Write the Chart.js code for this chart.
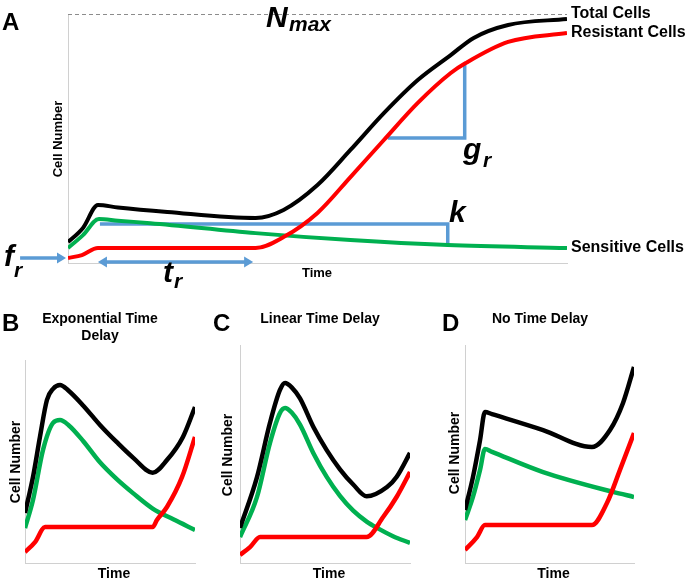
<!DOCTYPE html>
<html>
<head>
<meta charset="utf-8">
<script src="https://cdn.jsdelivr.net/npm/chart.js@4.4.1/dist/chart.umd.min.js"></script>
<style>
  html, body { margin: 0; padding: 0; background: #fff; }
  #wrap { position: relative; width: 688px; height: 579px; }
  #wrap canvas { position: absolute; left: 0; top: 0; }
</style>
</head>
<body>
<div id="wrap">
  <canvas id="chart-a" width="688" height="579"></canvas>
  <canvas id="chart-b" width="688" height="579"></canvas>
  <canvas id="chart-c" width="688" height="579"></canvas>
  <canvas id="chart-d" width="688" height="579"></canvas>
</div>
<script>
// ---- panel A (time 0-100, cell number as % of Nmax) ----
const aTotalT = [0, 3.0, 6.0, 10.0, 19.9, 37.6, 43.2, 50.0, 56.6, 63.3, 70.1, 76.7, 81.3, 88.2, 100];
const aTotal  = [8.4, 14.1, 23.3, 22.3, 20.5, 18.1, 21.3, 31.3, 45.4, 60.2, 73.5, 83.5, 90.4, 95.6, 98.0];
const aResT   = [0, 2.8, 6.0, 37.6, 43.2, 50.0, 56.6, 63.3, 70.1, 76.7, 79.7, 88.2, 100];
const aRes    = [2.0, 3.2, 6.0, 6.0, 10.4, 20.1, 34.5, 49.4, 64.3, 76.3, 80.3, 88.8, 92.4];
const aSensT  = [0, 3.0, 6.2, 10.0, 16.5, 37.6, 56.6, 76.1, 100];
const aSens   = [6.0, 11.2, 17.7, 17.0, 16.0, 12.0, 9.2, 7.2, 6.0];
// parameter marks
const nMax = 100;
const grT = [64.1, 79.5, 79.5], grV = [50.2, 50.2, 79.9];
const kT  = [6.4, 76.1, 76.1],  kV  = [15.7, 15.7, 7.2];
const frT = [-9.6, -0.4];          // arrow ends at the resistant start value
const trT = [6.0, 37.1], trV = 0.4;

// ---- panel B: exponential time delay ----
const bTotalT = [0, 4.7, 8.8, 12.9, 16.5, 20.6, 25.5, 34.3, 44.1, 54.0, 63.7, 75.1, 83.5, 92.9, 100];
const bTotal  = [24.6, 42.4, 62.1, 80.3, 85.8, 87.7, 85.0, 77.5, 68.0, 59.5, 51.8, 44.5, 50.7, 62.1, 76.8];
const bSensT  = [0, 4.7, 10.6, 16.5, 20.6, 25.5, 34.3, 44.1, 54.0, 63.7, 75.1, 87.2, 100];
const bSens   = [17.2, 31.0, 55.7, 69.0, 70.4, 68.0, 60.0, 49.6, 41.3, 34.3, 26.8, 21.5, 16.3];
const bResT   = [0, 5.9, 11.8, 75.1, 77.6, 83.5, 92.4, 100];
const bRes    = [5.4, 10.3, 17.7, 17.7, 21.2, 27.6, 42.4, 62.1];

// ---- panel C: linear time delay ----
const cTotalT = [0, 10.0, 17.6, 23.5, 26.5, 30.4, 35.3, 43.1, 51.0, 58.8, 66.6, 74.5, 86.5, 92.2, 100];
const cTotal  = [16.1, 39.4, 64.2, 79.4, 82.6, 80.6, 75.5, 62.5, 51.8, 43.0, 36.0, 30.6, 34.9, 39.6, 50.5];
const cSensT  = [0, 10.0, 17.6, 23.5, 26.5, 30.4, 35.3, 43.1, 51.0, 58.8, 66.6, 74.5, 80.6, 90.0, 100];
const cSens   = [11.9, 30.3, 55.0, 68.8, 71.1, 69.0, 63.5, 50.5, 39.5, 30.8, 24.0, 19.0, 16.1, 12.3, 9.2];
const cResT   = [0, 5.9, 11.8, 74.5, 84.3, 92.2, 100];
const cRes    = [3.7, 7.3, 11.9, 11.9, 21.2, 30.4, 41.7];

// ---- panel D: no time delay ----
const dTotalT = [0, 4.7, 8.9, 11.8, 16.0, 46.2, 75.1, 85.8, 93.5, 100];
const dTotal  = [24.3, 39.4, 56.4, 69.3, 68.3, 61.0, 53.2, 61.0, 73.4, 89.9];
const dSensT  = [0, 4.7, 8.9, 11.8, 16.0, 46.2, 87.6, 100];
const dSens   = [19.7, 30.3, 42.7, 52.3, 51.0, 41.7, 32.6, 30.3];
const dResT   = [0, 7.1, 11.8, 75.1, 84.0, 91.7, 100];
const dRes    = [6.0, 11.9, 17.4, 17.4, 27.5, 42.7, 59.6];

const BLACK = "#000000", RED = "#ff0000", GREEN = "#00b050", BLUE = "#5b9bd5", AXIS = "#d0d0d0";
const FONT = '"Liberation Sans", Arial, sans-serif';

function pts(xs, ys) { return xs.map((x, i) => ({ x: x, y: ys[i] })); }

function curve(label, xs, ys, color, width) {
  return {
    label, data: pts(xs, ys), borderColor: color, borderWidth: width,
    cubicInterpolationMode: "monotone", pointRadius: 0, fill: false,
    borderCapStyle: "butt", borderJoinStyle: "round"
  };
}

function mark(label, xs, ys) {
  return {
    label, data: pts(xs, ys), borderColor: BLUE, borderWidth: 3.5,
    tension: 0, pointRadius: 0, fill: false, borderJoinStyle: "miter"
  };
}

function text(ctx, s, x, y, size, opts = {}) {
  ctx.save();
  ctx.font = `${opts.italic ? "italic " : ""}bold ${size}px ${FONT}`;
  ctx.fillStyle = "#000";
  ctx.textAlign = opts.align || "left";
  ctx.textBaseline = opts.baseline || "alphabetic";
  if (opts.rot) {
    ctx.translate(x, y);
    ctx.rotate(opts.rot);
    ctx.fillText(s, 0, 0);
  } else {
    ctx.fillText(s, x, y);
  }
  ctx.restore();
}

function arrowHead(ctx, x, y, dir) {
  ctx.beginPath();
  ctx.moveTo(x, y);
  ctx.lineTo(x - dir * 9, y - 5.5);
  ctx.lineTo(x - dir * 9, y + 5.5);
  ctx.closePath();
  ctx.fill();
}

function makeChart(id, padding, datasets, extra) {
  const axis = {
    type: "linear", min: 0, max: 100,
    ticks: { display: false }, grid: { display: false, drawTicks: false, tickLength: 0 },
    border: { display: true, color: AXIS, width: 1 }
  };
  return new Chart(document.getElementById(id), {
    type: "line",
    data: { datasets },
    options: {
      responsive: false, animation: false, devicePixelRatio: 1, events: [],
      layout: { padding },
      scales: { x: { ...axis }, y: { ...axis } },
      plugins: { legend: { display: false }, tooltip: { enabled: false } }
    },
    plugins: [extra]
  });
}

// panel A
makeChart("chart-a", { left: 68, right: 121, top: 14, bottom: 316 }, [
  curve("Total Cells", aTotalT, aTotal, BLACK, 4),
  curve("Resistant Cells", aResT, aRes, RED, 4),
  curve("Sensitive Cells", aSensT, aSens, GREEN, 4),
  mark("g_r", grT, grV),
  mark("k", kT, kV)
], {
  id: "panelA",
  beforeDatasetsDraw(chart) {
    const { ctx, scales: { x, y } } = chart;
    ctx.save();
    ctx.strokeStyle = "#8c8c8c";
    ctx.lineWidth = 1;
    ctx.setLineDash([4, 3]);
    ctx.beginPath();
    ctx.moveTo(x.getPixelForValue(0), Math.round(y.getPixelForValue(nMax)) + 0.5);
    ctx.lineTo(x.getPixelForValue(100), Math.round(y.getPixelForValue(nMax)) + 0.5);
    ctx.stroke();
    ctx.restore();
  },
  afterDatasetsDraw(chart) {
    const { ctx, scales: { x, y } } = chart;
    ctx.save();
    ctx.strokeStyle = BLUE;
    ctx.fillStyle = BLUE;
    ctx.lineWidth = 3.5;
    // f_r arrow
    const fy = y.getPixelForValue(aRes[0]);
    const f0 = x.getPixelForValue(frT[0]), f1 = x.getPixelForValue(frT[1]);
    ctx.beginPath(); ctx.moveTo(f0, fy); ctx.lineTo(f1 - 6, fy); ctx.stroke();
    arrowHead(ctx, f1, fy, 1);
    // t_r double arrow
    const ty = y.getPixelForValue(trV);
    const t0 = x.getPixelForValue(trT[0]), t1 = x.getPixelForValue(trT[1]);
    ctx.beginPath(); ctx.moveTo(t0 + 6, ty); ctx.lineTo(t1 - 6, ty); ctx.stroke();
    arrowHead(ctx, t0, ty, -1);
    arrowHead(ctx, t1, ty, 1);
    ctx.restore();
  },
  afterDraw(chart) {
    const ctx = chart.ctx;
    text(ctx, "A", 2, 30, 24);
    text(ctx, "N", 266, 27, 30, { italic: true });
    text(ctx, "max", 289, 31, 21, { italic: true });
    text(ctx, "f", 4, 266, 30, { italic: true });
    text(ctx, "r", 14, 277, 21, { italic: true });
    text(ctx, "t", 163, 282, 30, { italic: true });
    text(ctx, "r", 174, 288, 21, { italic: true });
    text(ctx, "k", 449, 222, 30, { italic: true });
    text(ctx, "g", 463, 159, 30, { italic: true });
    text(ctx, "r", 483, 167, 21, { italic: true });
    text(ctx, "Total Cells", 571, 14, 16, { baseline: "middle" });
    text(ctx, "Resistant Cells", 571, 33, 16, { baseline: "middle" });
    text(ctx, "Sensitive Cells", 571, 248, 16, { baseline: "middle" });
    text(ctx, "Cell Number", 58, 139, 13, { align: "center", baseline: "middle", rot: -Math.PI / 2 });
    text(ctx, "Time", 317, 273, 13, { align: "center", baseline: "middle" });
  }
});

function smallPanel(id, padding, tt, tv, st, sv, rt, rv, labels) {
  return makeChart(id, padding, [
    curve("Total Cells", tt, tv, BLACK, 4.5),
    curve("Resistant Cells", rt, rv, RED, 4.5),
    curve("Sensitive Cells", st, sv, GREEN, 4.5)
  ], {
    id: "labels-" + id,
    afterDraw(chart) {
      const ctx = chart.ctx;
      const a = chart.chartArea;
      text(ctx, labels.letter, labels.lx, 331, 24);
      labels.title.forEach((line, i) =>
        text(ctx, line, labels.tx, 319 + i * 17, 14, { align: "center", baseline: "middle" }));
      text(ctx, "Cell Number", labels.cx, labels.cy, 14, { align: "center", baseline: "middle", rot: -Math.PI / 2 });
      text(ctx, "Time", (a.left + a.right) / 2 + 4, 574, 14, { align: "center", baseline: "middle" });
    }
  });
}

smallPanel("chart-b", { left: 25, right: 493, top: 360, bottom: 16 },
  bTotalT, bTotal, bSensT, bSens, bResT, bRes,
  { letter: "B", lx: 2, title: ["Exponential Time", "Delay"], tx: 100, cx: 16, cy: 462 });
smallPanel("chart-c", { left: 240, right: 278, top: 345, bottom: 16 },
  cTotalT, cTotal, cSensT, cSens, cResT, cRes,
  { letter: "C", lx: 213, title: ["Linear Time Delay"], tx: 320, cx: 228, cy: 455 });
smallPanel("chart-d", { left: 465, right: 54, top: 345, bottom: 16 },
  dTotalT, dTotal, dSensT, dSens, dResT, dRes,
  { letter: "D", lx: 442, title: ["No Time Delay"], tx: 540, cx: 455, cy: 453 });
</script>
</body>
</html>
